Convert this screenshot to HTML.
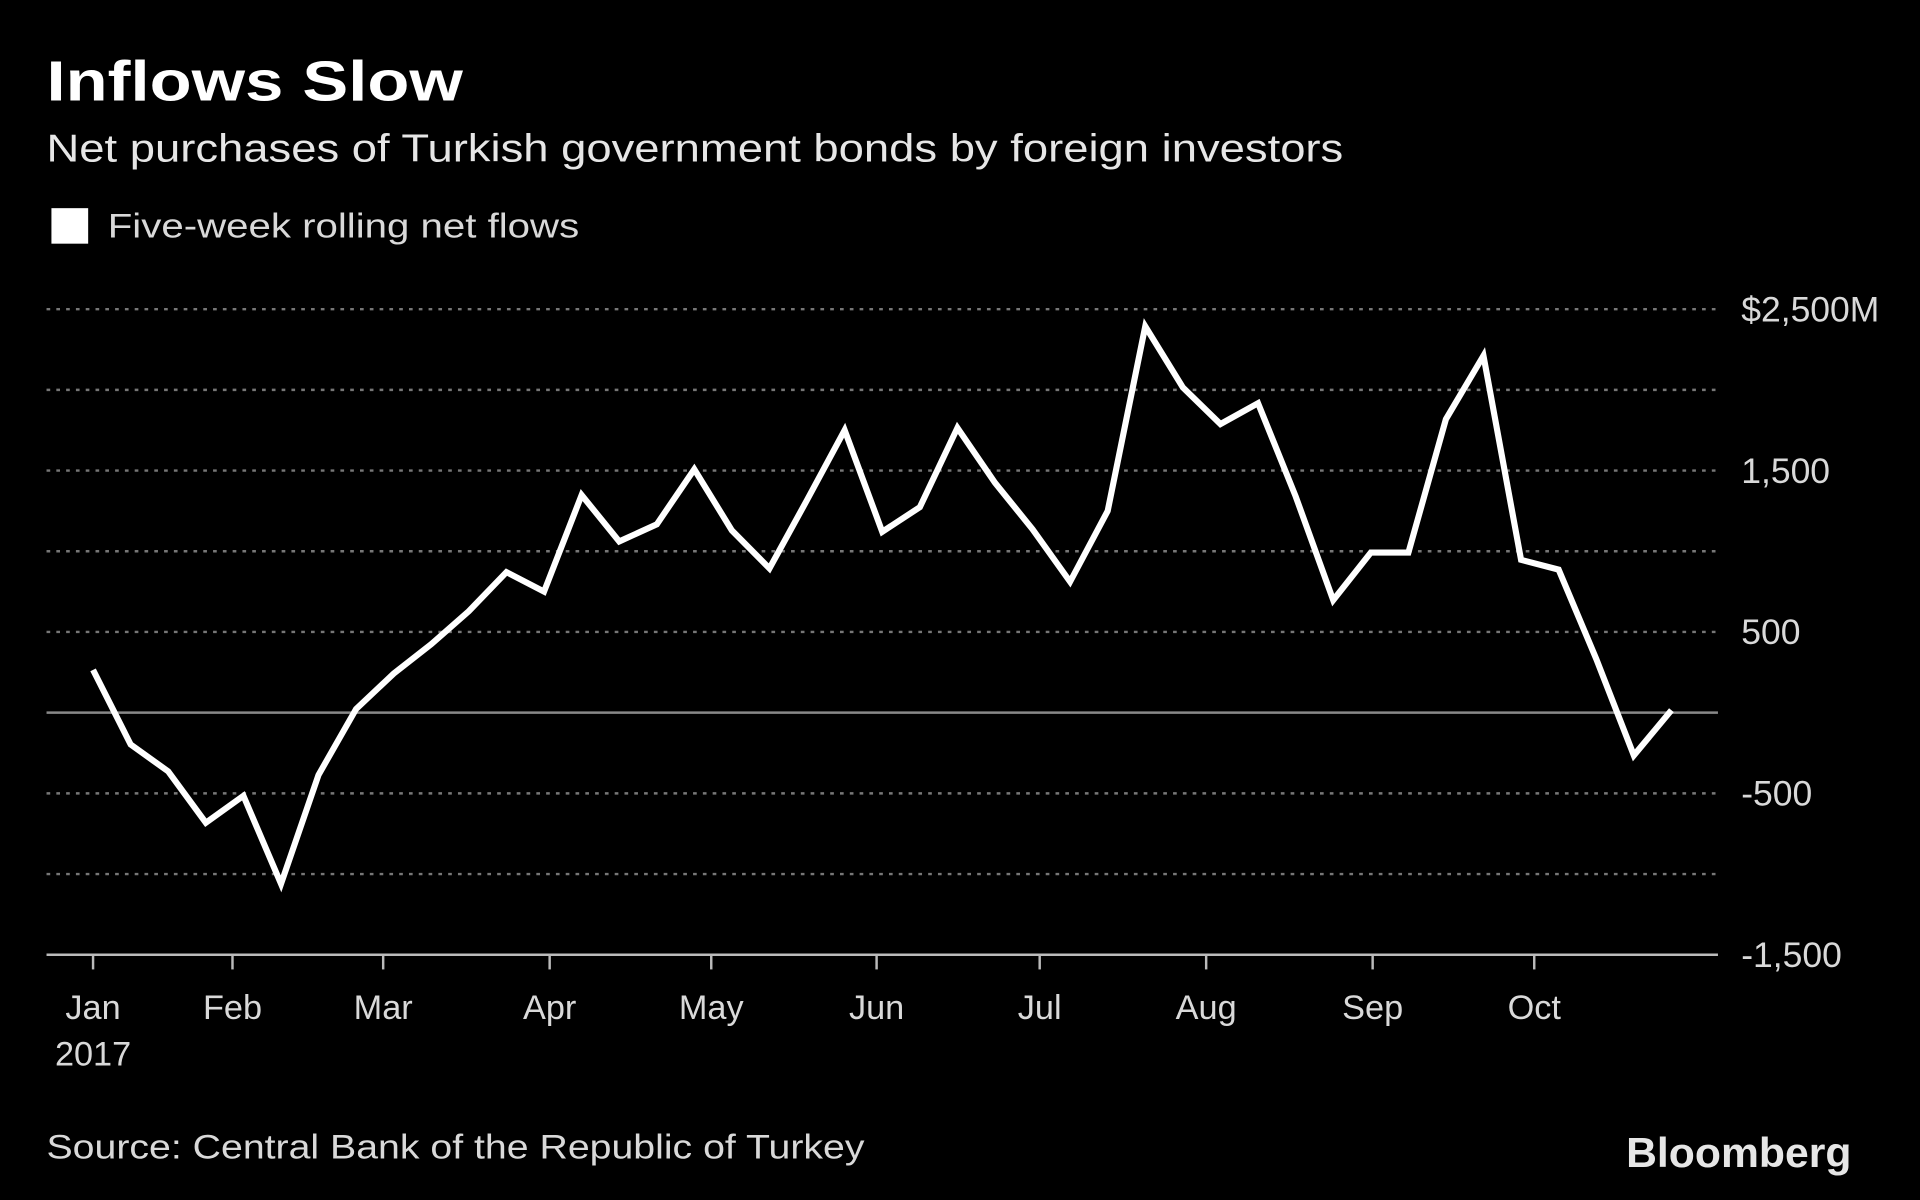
<!DOCTYPE html>
<html><head><meta charset="utf-8"><style>
html,body{margin:0;padding:0;background:#000;}
svg{display:block;}
text{font-family:"Liberation Sans","DejaVu Sans",sans-serif;fill:#fff;}
</style></head><body>
<svg id="chart" width="1920" height="1200" viewBox="0 0 1568 980" xmlns="http://www.w3.org/2000/svg">
<rect width="1568" height="980" fill="#000"/>
<text x="38" y="82" font-size="46" font-weight="bold" textLength="340" lengthAdjust="spacingAndGlyphs">Inflows Slow</text>
<text x="38" y="132" font-size="32" style="fill:#e6e6e6" textLength="1059" lengthAdjust="spacingAndGlyphs">Net purchases of Turkish government bonds by foreign investors</text>
<rect x="42" y="170" width="30" height="29" fill="#fff"/>
<text x="88" y="194" font-size="28" style="fill:#d9d9d9" textLength="385" lengthAdjust="spacingAndGlyphs">Five-week rolling net flows</text>
<g id="grid"></g>
<g id="xaxis"></g>
<g id="yaxis"></g>
<polyline id="line" fill="none" stroke="#fff" stroke-width="5" stroke-linejoin="miter"/>
<text x="38" y="946" font-size="28" style="fill:#d9d9d9" textLength="668" lengthAdjust="spacingAndGlyphs">Source: Central Bank of the Republic of Turkey</text>
<text x="1328" y="953" font-size="34" font-weight="bold" style="fill:#e6e6e6" textLength="184" lengthAdjust="spacingAndGlyphs">Bloomberg</text>
</svg>
<script>
const values = [265,-197,-364,-682,-515,-1061,-386,23,242,424,629,871,750,1348,1061,1167,1508,1129,894,1318,1750,1121,1273,1765,1424,1136,811,1250,2394,2015,1788,1917,1341,697,992,992,1818,2212,947,886,333,-265,15];
const yTicks = [2500,2000,1500,1000,500,0,-500,-1000,-1500];
const yTickLabels = {"2500":"$2,500M","1500":"1,500","500":"500","-500":"-500","-1500":"-1,500"};
const monthLabels = ["Jan","Feb","Mar","Apr","May","Jun","Jul","Aug","Sep","Oct"];
const monthWeekPos = [0,3.71,7.72,12.15,16.45,20.85,25.19,29.62,34.05,38.35];

const NS="http://www.w3.org/2000/svg";
const x0=76, dx=30.69;
function xScale(i){return x0+i*dx;}
function yScale(v){return 582-(v/1000)*131.8;}
function mk(tag,attrs,parent){const e=document.createElementNS(NS,tag);for(const k in attrs)e.setAttribute(k,attrs[k]);parent.appendChild(e);return e;}

const grid=document.getElementById('grid'), ya=document.getElementById('yaxis'), xa=document.getElementById('xaxis');
yTicks.forEach(t=>{
  const y=yScale(t);
  const solid=(t===0||t===-1500);
  const l=mk('line',{x1:38,x2:1403,y1:y,y2:y,stroke:solid?(t===0?'#888':'#bbb'):'#777','stroke-width':2,'stroke-dasharray':solid?'none':'3,5'},grid);
  
  
  if(yTickLabels[String(t)]){
    const tx=mk('text',{x:1422,y:y+10,'font-size':29,style:'fill:#d9d9d9'},ya);
    tx.textContent=yTickLabels[String(t)];
    
    
  }
});
monthLabels.forEach((m,i)=>{
  const x=xScale(monthWeekPos[i]);
  const tk=mk('line',{x1:x,x2:x,y1:yScale(-1500),y2:yScale(-1500)+12,stroke:'#bbb','stroke-width':2},xa);
  
  
  const tx=mk('text',{x:x,y:832,'font-size':28,'text-anchor':'middle',style:'fill:#d9d9d9'},xa);
  tx.textContent=m;
  
  
});
const yr=mk('text',{x:x0,y:870,'font-size':28,'text-anchor':'middle',style:'fill:#d9d9d9'},xa);
yr.textContent="2017";


document.getElementById('line').setAttribute('points',values.map((v,i)=>xScale(i).toFixed(1)+','+yScale(v).toFixed(1)).join(' '));
</script>
</body></html>
